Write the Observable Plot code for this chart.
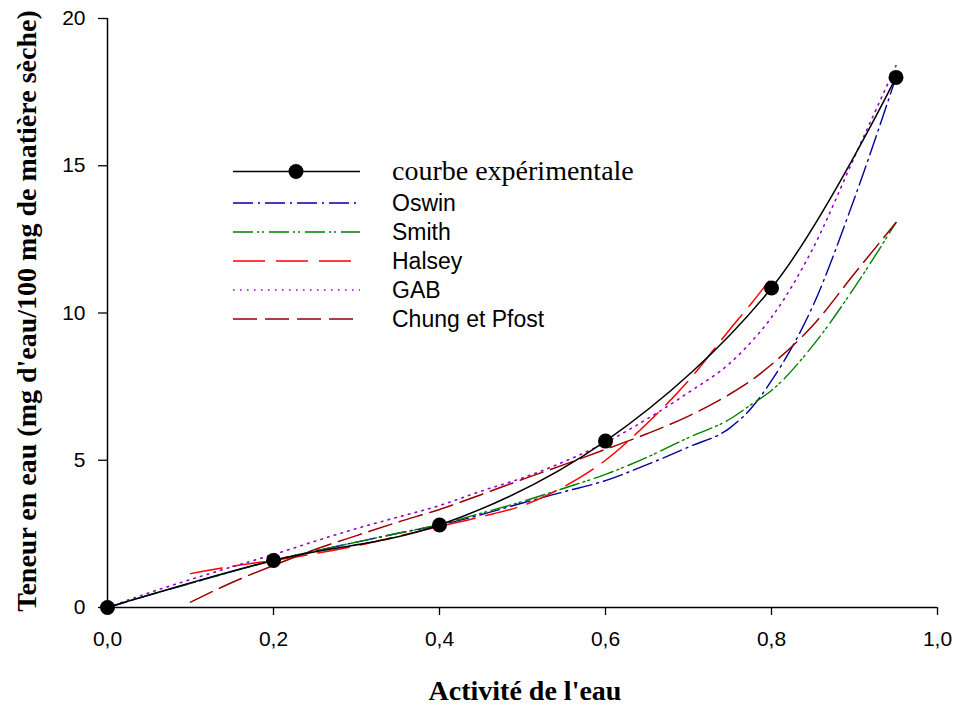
<!DOCTYPE html>
<html>
<head>
<meta charset="utf-8">
<script src="https://cdn.jsdelivr.net/npm/d3@7"></script>
<script src="https://cdn.jsdelivr.net/npm/@observablehq/plot@0.6"></script>
<style>
  html, body { margin: 0; padding: 0; background: #fff; }
  #chart svg { display: block; }
</style>
</head>
<body>
<div id="chart"></div>
<script>
// ---- data ----
const awExp = [0, 0.2, 0.4, 0.6, 0.8, 0.95];
const teneurExp = [0, 1.6, 2.8, 5.65, 10.85, 18.0];

const aw = [0, 0.05, 0.1, 0.15, 0.2, 0.25, 0.3, 0.35, 0.4, 0.45, 0.5, 0.55, 0.6, 0.65, 0.7, 0.75, 0.775, 0.8, 0.85, 0.9, 0.95];
const oswin  = [0, 0.42, 0.82, 1.22, 1.6, 1.92, 2.22, 2.52, 2.8, 3.15, 3.55, 3.93, 4.31, 4.85, 5.45, 6.1, 6.75, 7.7, 10.25, 13.9, 18.0];
const smith  = [0, 0.42, 0.82, 1.22, 1.6, 1.92, 2.22, 2.52, 2.82, 3.2, 3.6, 4.05, 4.52, 5.1, 5.77, 6.4, 6.88, 7.37, 8.9, 10.87, 13.07];
const halsey = [null, null, 1.15, 1.4, 1.6, 1.83, 2.1, 2.42, 2.75, 3.08, 3.46, 4.1, 5.0, 6.25, 7.7, 9.45, 10.3, 11.2, null, null, null];
const gab    = [0, 0.5, 0.95, 1.38, 1.8, 2.25, 2.68, 3.07, 3.46, 3.95, 4.4, 4.95, 5.6, 6.4, 7.3, 8.3, 9.0, 9.85, 12.2, 15.3, 18.4];
const chung  = [null, null, 0.18, 0.85, 1.43, 1.97, 2.44, 2.9, 3.33, 3.83, 4.35, 4.85, 5.37, 5.9, 6.5, 7.25, 7.7, 8.25, 9.58, 11.34, 13.07];

const xTicks = [0, 0.2, 0.4, 0.6, 0.8, 1.0];
const yTicks = [0, 5, 10, 15, 20];

const seriesNames = ["Oswin", "Smith", "Halsey", "GAB", "Chung et Pfost"];
const seriesValues = [oswin, smith, halsey, gab, chung];
const seriesColors = ["#000099", "#008000", "#ff0000", "#9900cc", "#990000"];
const seriesDash = ["20,5,2,5", "20,4,2,3,2,5", "32,11", "1.6,5.4", "24,8"];
const seriesWidth = [1.4, 1.4, 1.5, 1.6, 1.5];

const expTable = awExp.map((x, i) => ({x, y: teneurExp[i]}));
const seriesTables = seriesValues.map(vals =>
  aw.map((x, i) => ({x, y: vals[i]})).filter(d => d.y != null)
);

const sans = "'Liberation Sans', Arial, Helvetica, sans-serif";
const serif = "'Liberation Serif', 'Times New Roman', Times, serif";
const fmt = d => d.toFixed(1).replace(".", ",");

const marks = [];
seriesTables.forEach((t, i) => {
  marks.push(Plot.line(t, {
    x: "x", y: "y", curve: "monotone-x",
    stroke: seriesColors[i], strokeWidth: seriesWidth[i], strokeDasharray: seriesDash[i]
  }));
});
marks.push(Plot.line(expTable, {x: "x", y: "y", curve: "catmull-rom", stroke: "black", strokeWidth: 1.5}));
marks.push(Plot.dot(expTable, {x: "x", y: "y", r: 7.5, fill: "black", stroke: "none"}));
marks.push(Plot.ruleX([0], {stroke: "black", strokeWidth: 1.5}));
marks.push(Plot.ruleY([0], {stroke: "black", strokeWidth: 1.5}));
marks.push(Plot.axisX(xTicks, {tickFormat: fmt, tickSize: 8, tickPadding: 16, fontSize: 21, label: null, fill: "black", stroke: "black", strokeWidth: 1.3}));
marks.push(Plot.axisY(yTicks, {tickFormat: d => String(d), tickSize: 9, tickPadding: 13, fontSize: 21, label: null, fill: "black", stroke: "black", strokeWidth: 1.3}));

const plot = Plot.plot({
  width: 959,
  height: 709,
  marginLeft: 107,
  marginRight: 22,
  marginTop: 18,
  marginBottom: 102,
  style: {fontFamily: sans, background: "white", color: "black", overflow: "visible"},
  x: {domain: [0, 1]},
  y: {domain: [0, 20]},
  marks
});

document.getElementById("chart").appendChild(plot);

// ---- titles and in-plot legend (added with d3) ----
const svg = d3.select(plot);

svg.append("text")
  .attr("x", 525).attr("y", 700)
  .attr("text-anchor", "middle")
  .style("font-family", serif).style("font-weight", "bold").style("font-size", "28px")
  .attr("fill", "black")
  .text("Activité de l'eau");

svg.append("text")
  .attr("transform", "translate(36,311) rotate(-90)")
  .attr("text-anchor", "middle")
  .style("font-family", serif).style("font-weight", "bold").style("font-size", "28px")
  .attr("fill", "black")
  .text("Teneur en eau (mg d'eau/100 mg de matière sèche)");

const leg = svg.append("g").attr("text-anchor", "start");
const lx0 = 233, lx1 = 360, tx = 392;
const rowY = [171.5, 203, 232, 261, 290, 319];
// experimental row
leg.append("line").attr("x1", lx0).attr("x2", lx1).attr("y1", rowY[0]).attr("y2", rowY[0])
  .attr("stroke", "black").attr("stroke-width", 1.5);
leg.append("circle").attr("cx", 296).attr("cy", rowY[0]).attr("r", 7.5).attr("fill", "black");
leg.append("text").attr("x", tx).attr("y", rowY[0]).attr("dy", "0.3em")
  .attr("text-anchor", "start")
  .style("font-family", serif).style("font-size", "28px").attr("fill", "black")
  .text("courbe expérimentale");
seriesNames.forEach((name, i) => {
  const y = rowY[i + 1];
  leg.append("line").attr("x1", lx0).attr("x2", lx1).attr("y1", y).attr("y2", y)
    .attr("stroke", seriesColors[i]).attr("stroke-width", seriesWidth[i])
    .attr("stroke-dasharray", seriesDash[i]);
  leg.append("text").attr("x", tx).attr("y", y).attr("dy", "0.36em")
    .attr("text-anchor", "start")
    .style("font-family", sans).style("font-size", "23px").attr("fill", "black")
    .text(name);
});
</script>
</body>
</html>
